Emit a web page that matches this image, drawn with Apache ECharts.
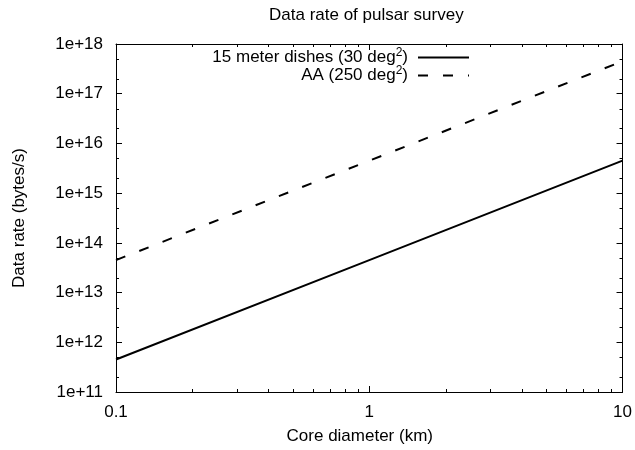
<!DOCTYPE html>
<html>
<head>
<meta charset="utf-8">
<script src="https://cdn.jsdelivr.net/npm/echarts@6/dist/echarts.min.js"></script>
<style>
html, body { margin: 0; padding: 0; background: #fff; }
#main { width: 635px; height: 450px; }
</style>
</head>
<body>
<div id="main"></div>
<script>
// values (log-log, both lines go as d^2)
var coreDiameter = [0.1, 1, 10];
var dishRate = [4.5e11, 4.5e13, 4.5e15];
var aaRate = [4.5e13, 4.5e15, 4.5e17];
var seriesNames = ['15 meter dishes (30 deg²)', 'AA (250 deg²)'];

var xTickLabels = ['0.1', '1', '10'];
var yTickLabels = ['1e+11', '1e+12', '1e+13', '1e+14', '1e+15', '1e+16', '1e+17', '1e+18'];
var xMinorTicks = [0.2, 0.3, 0.4, 0.5, 0.6, 0.7, 0.8, 0.9, 2, 3, 4, 5, 6, 7, 8, 9];
var yMinorTicks = [2e11, 5e11, 2e12, 5e12, 2e13, 5e13, 2e14, 5e14, 2e15, 5e15, 2e16, 5e16, 2e17, 5e17];

var FONT = '"Liberation Sans", Arial, Helvetica, sans-serif';
var FS = 17;

var chart = echarts.init(document.getElementById('main'), null, {renderer: 'canvas'});

function pairs(xs, ys) {
    var out = [];
    for (var i = 0; i < xs.length; i++) out.push([xs[i], ys[i]]);
    return out;
}

var axisLine = {show: true, lineStyle: {color: '#000', width: 1}};
var tick = {show: true, inside: true, length: 6, lineStyle: {color: '#000', width: 1}};

var option = {
    backgroundColor: '#fff',
    animation: false,
    title: {
        text: 'Data rate of pulsar survey',
        left: 264,
        top: 2,
        textStyle: {fontFamily: FONT, fontSize: FS, fontWeight: 'normal', color: '#000'}
    },
    legend: {
        data: seriesNames,
        orient: 'vertical',
        align: 'right',
        right: 165,
        top: 47,
        padding: 0,
        itemWidth: 51,
        itemHeight: 14,
        itemGap: -1,
        itemStyle: {opacity: 0, color: 'rgba(0,0,0,0)', borderWidth: 0},
        // gnuplot-style raised exponent
        formatter: function (name) {
            return '{n|' + name.replace('²', '}{s|2}{n|') + '}';
        },
        textStyle: {
            fontFamily: FONT, fontSize: FS, color: '#000', padding: [0, 5, 0, 0],
            rich: {
                n: {fontFamily: FONT, fontSize: FS, color: '#000'},
                s: {fontFamily: FONT, fontSize: 12, color: '#000', padding: [0, 0, 9, 0]}
            }
        }
    },
    grid: {left: 116, right: 12, top: 44, bottom: 58},
    xAxis: [
        {
            type: 'log', logBase: 10, min: 0.1, max: 10,
            position: 'bottom',
            name: 'Core diameter (km)', nameLocation: 'middle', nameGap: 36,
            nameTextStyle: {fontFamily: FONT, fontSize: FS, color: '#000', padding: [0, 19, 0, 0]},
            axisLine: axisLine, axisTick: tick,
            axisLabel: {
                margin: 12, fontFamily: FONT, fontSize: FS, color: '#000',
                formatter: function (v, i) { return xTickLabels[i]; }
            },
            splitLine: {show: false}
        },
        {
            type: 'log', logBase: 10, min: 0.1, max: 10,
            position: 'top',
            axisLine: axisLine, axisTick: tick,
            axisLabel: {show: false}, splitLine: {show: false}
        }
    ],
    yAxis: [
        {
            type: 'log', logBase: 10, min: 1e11, max: 1e18, splitNumber: 7,
            position: 'left',
            name: 'Data rate (bytes/s)', nameLocation: 'middle', nameGap: 88,
            nameTextStyle: {fontFamily: FONT, fontSize: FS, color: '#000'},
            axisLine: axisLine, axisTick: tick,
            axisLabel: {
                margin: 13, fontFamily: FONT, fontSize: FS, color: '#000',
                formatter: function (v, i) { return yTickLabels[i]; }
            },
            splitLine: {show: false}
        },
        {
            type: 'log', logBase: 10, min: 1e11, max: 1e18, splitNumber: 7,
            position: 'right',
            axisLine: axisLine, axisTick: tick,
            axisLabel: {show: false}, splitLine: {show: false}
        }
    ],
    series: [
        {
            name: seriesNames[0],
            type: 'line',
            data: pairs(coreDiameter, dishRate),
            symbol: 'none',
            lineStyle: {color: '#000', width: 2, type: 'solid'},
            itemStyle: {color: '#000'}
        },
        {
            name: seriesNames[1],
            type: 'line',
            data: pairs(coreDiameter, aaRate),
            symbol: 'none',
            lineStyle: {color: '#000', width: 2, type: [10, 15]},
            itemStyle: {color: '#000'}
        },
        {
            // minor ticks on bottom and top
            type: 'custom',
            silent: true,
            data: xMinorTicks.map(function (v) { return [v, 1e11]; }),
            renderItem: function (params, api) {
                var cs = params.coordSys;
                var x = Math.round(api.coord([api.value(0), 1e11])[0]) + 0.5;
                var st = {stroke: '#000', lineWidth: 1};
                return {type: 'group', children: [
                    {type: 'line', shape: {x1: x, y1: cs.y + cs.height, x2: x, y2: cs.y + cs.height - 3}, style: st},
                    {type: 'line', shape: {x1: x, y1: cs.y, x2: x, y2: cs.y + 3}, style: st}
                ]};
            }
        },
        {
            // minor ticks on left and right
            type: 'custom',
            silent: true,
            data: yMinorTicks.map(function (v) { return [0.1, v]; }),
            renderItem: function (params, api) {
                var cs = params.coordSys;
                var y = Math.round(api.coord([0.1, api.value(1)])[1]) + 0.5;
                var st = {stroke: '#000', lineWidth: 1};
                return {type: 'group', children: [
                    {type: 'line', shape: {x1: cs.x, y1: y, x2: cs.x + 3, y2: y}, style: st},
                    {type: 'line', shape: {x1: cs.x + cs.width, y1: y, x2: cs.x + cs.width - 3, y2: y}, style: st}
                ]};
            }
        }
    ]
};

chart.setOption(option);
</script>
</body>
</html>
